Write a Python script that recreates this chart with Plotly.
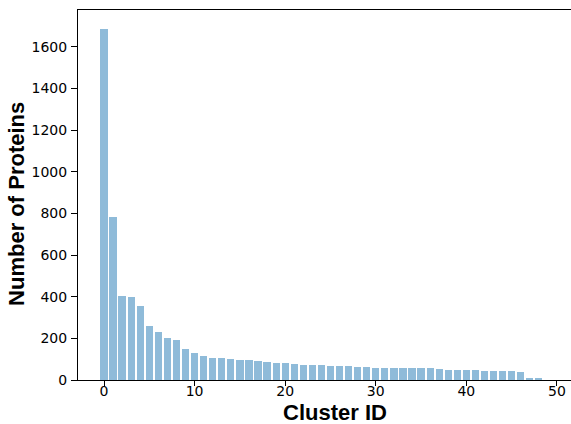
import plotly.graph_objects as go

cluster_ids = list(range(49))
protein_counts = [1686, 784, 401, 400, 355, 261, 229, 204, 194, 148,
                  128, 117, 108, 107, 101, 97, 97, 90, 87, 82,
                  81, 77, 72, 72, 70, 68, 66, 66, 63, 61,
                  58, 58, 58, 56, 56, 56, 56, 52, 50, 49,
                  47, 47, 45, 45, 42, 41, 39, 11, 5]
x_ticks = [0, 10, 20, 30, 40, 50]
y_ticks = [0, 200, 400, 600, 800, 1000, 1200, 1400, 1600]

fig = go.Figure(go.Bar(
    x=cluster_ids, y=protein_counts, width=0.8,
    marker=dict(color="#8fbbd9", line=dict(width=0)),
))

tickfont = dict(family="DejaVu Sans", size=14, color="#000000")

fig.update_layout(
    width=571, height=424,
    margin=dict(l=78, r=0, t=10, b=44),
    plot_bgcolor="white", paper_bgcolor="white",
    showlegend=False, bargap=0,
    xaxis=dict(
        range=[-2.87, 51.55], tickvals=x_ticks,
        ticks="outside", ticklen=5, tickwidth=1, tickcolor="black",
        ticklabelstandoff=-7,
        showline=True, linecolor="black", linewidth=1, mirror=True,
        showgrid=False, zeroline=False, tickfont=tickfont,
    ),
    yaxis=dict(
        range=[0, 1776], tickvals=y_ticks,
        ticks="outside", ticklen=6, tickwidth=1, tickcolor="black",
        ticklabelstandoff=1,
        showline=True, linecolor="black", linewidth=1,
        showgrid=False, zeroline=False, tickfont=tickfont,
    ),
    annotations=[
        dict(text="<b>Cluster ID</b>", xref="paper", yref="paper",
             x=0.521, y=0, yshift=-32, xanchor="center", yanchor="middle",
             showarrow=False,
             font=dict(family="Liberation Sans", size=22, color="#000000")),
        dict(text="<b>Number of Proteins</b>", xref="paper", yref="paper",
             x=0, xshift=-61, y=0.476, xanchor="center", yanchor="middle",
             textangle=-90, showarrow=False,
             font=dict(family="Liberation Sans", size=22, color="#000000")),
    ],
)

fig.write_html("out.html")
